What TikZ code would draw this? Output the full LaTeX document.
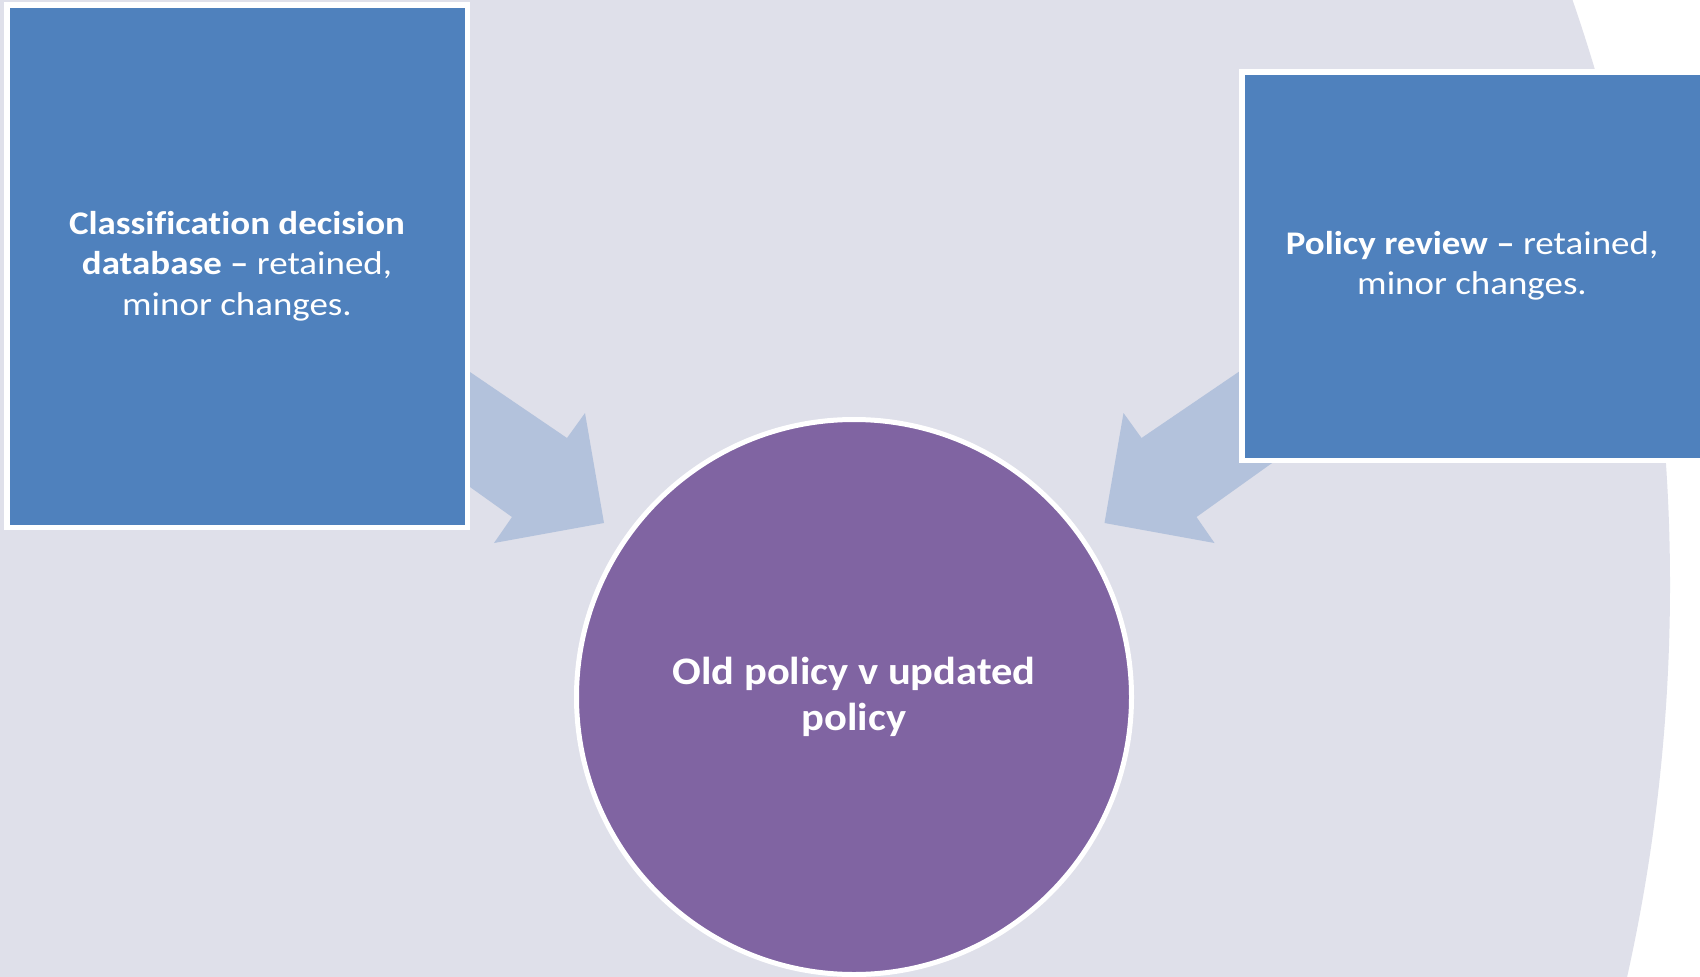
\documentclass[tikz,border=0pt]{standalone}
\usepackage{fontspec}
\setmainfont{Carlito}[Ligatures=NoCommon]
\newfontfamily\boxfont{Carlito}[FakeStretch=1.12, Ligatures=NoCommon]
\newfontfamily\hubfont{Carlito}[FakeStretch=1.09, Ligatures=NoCommon]
\definecolor{bglav}{RGB}{223,224,234}
\definecolor{boxblue}{RGB}{79,129,189}
\definecolor{hubpurple}{RGB}{128,100,162}
\definecolor{arrowblue}{RGB}{179,194,220}
\tikzset{
  stepbox/.style={draw=white, line width=5.5pt, fill=boxblue, text=white, align=center,
    inner sep=0pt, outer sep=0pt, font=\boxfont\fontsize{33}{40.5}\selectfont},
  hub/.style={circle, draw=white, line width=5pt, fill=hubpurple, text=white, align=center,
    inner sep=0pt, outer sep=0pt, minimum size=555pt, font=\hubfont\bfseries\fontsize{39}{46}\selectfont},
  blockarrow/.style={fill=arrowblue, draw=none}
}
\begin{document}
\begin{tikzpicture}[x=1pt,y=-1pt]
\useasboundingbox (0,0) rectangle (1700,977);
\clip (0,0) rectangle (1700,977);
\fill[white] (0,0) rectangle (1700,977);
\fill[bglav] (-125,585) circle[radius=1795];
% converging arrows
\fill[blockarrow] (400,324.4) -- (567,438) -- (585,413) -- (604,523) -- (494,543) -- (512,517) -- (400,437) -- cycle;
\fill[blockarrow] (1308.5,324.4) -- (1141.5,438) -- (1123.5,413) -- (1104.5,523) -- (1214.5,543) -- (1196.5,517) -- (1308.5,437) -- cycle;
% boxes
\node[stepbox, minimum width=460.5pt, minimum height=522.5pt] (left) at (237,266)
  {\textbf{Classification decision}\\\textbf{database –} retained,\\minor changes.};
\node[stepbox, minimum width=460.5pt, minimum height=388.5pt] (right) at (1472,266)
  {\textbf{Policy review –} retained,\\minor changes.};
% hub
\node[hub] (hub) at (854,697) {Old policy v updated\\policy};
\end{tikzpicture}
\end{document}
